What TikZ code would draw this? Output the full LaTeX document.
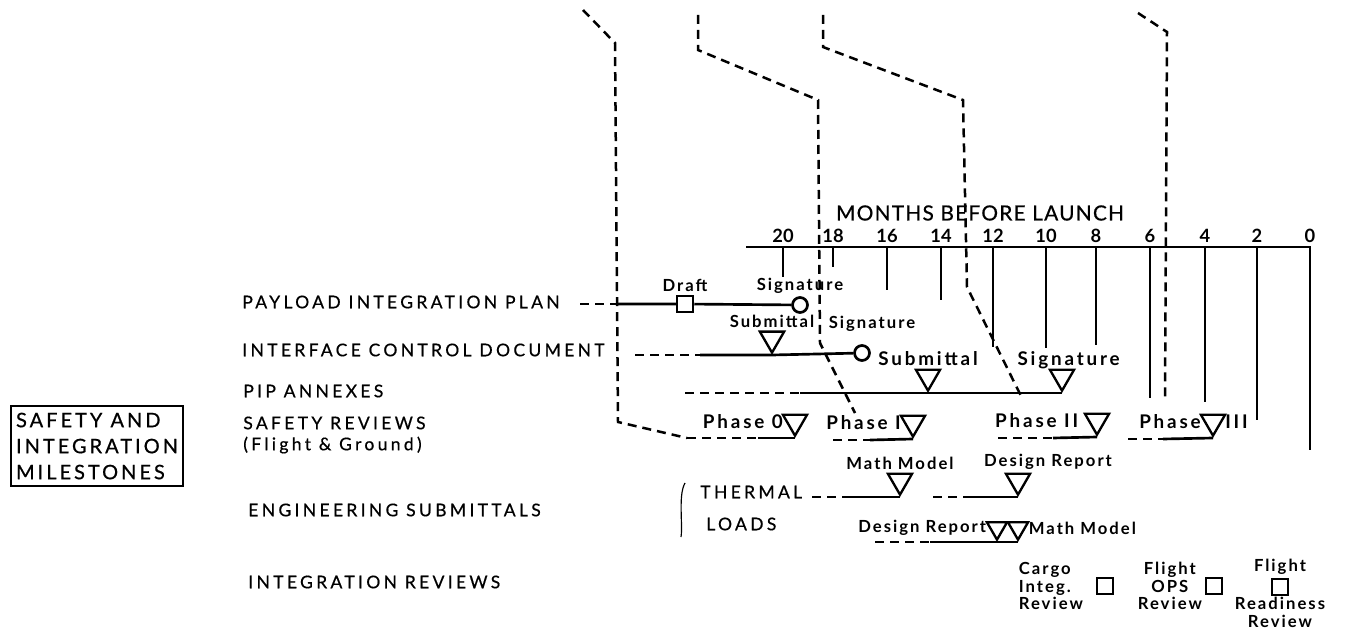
\documentclass[tikz,border=0pt]{standalone}
\usepackage{fontspec}
\setmainfont{Lato}
\usetikzlibrary{shapes.geometric}

\newcommand\rowfont{\fontsize{10.5}{12.6}\selectfont\addfontfeature{LetterSpace=19, FakeBold=0.6}}
\newcommand\boxfont{\fontsize{12}{15.6}\selectfont\addfontfeature{LetterSpace=15, FakeBold=0.6}}
\newcommand\tagfont{\fontsize{10}{10.5}\selectfont\bfseries\addfontfeature{LetterSpace=12}}
\newcommand\bigtagfont{\fontsize{11.3}{13}\selectfont\bfseries\addfontfeature{LetterSpace=15}}
\newcommand\monthfont{\fontsize{11}{12}\selectfont\bfseries}
\newcommand\titlefont{\fontsize{12.5}{14}\selectfont\addfontfeature{LetterSpace=6, FakeBold=0.6}}

\tikzset{
  rowlabel/.style={anchor=west, inner sep=0pt, font=\rowfont, align=left},
  tag/.style={font=\tagfont, inner sep=1.5pt},
  bigtag/.style={font=\bigtagfont, inner sep=1.5pt},
  solidline/.style={line width=1.6pt},
  flow/.style={line width=1.5pt, dash pattern=on 5.4pt off 3.6pt},
  mstone/.style={regular polygon, regular polygon sides=3, shape border rotate=180,
    draw, line width=1.4pt, inner sep=0pt, minimum size=16.8pt, anchor=corner 1},
  smallstone/.style={mstone, minimum size=13.9pt},
  sig/.style={circle, draw, line width=1.6pt, inner sep=0pt, minimum size=9pt},
  revbox/.style={rectangle, draw, line width=1.5pt, inner sep=0pt, minimum size=9.6pt}
}

\begin{document}
\begin{tikzpicture}[x=0.6pt, y=-0.6pt]
  \useasboundingbox (0,0) rectangle (1348,630);

  % time scale
  \node[font=\titlefont] (title) at (980,213) {MONTHS BEFORE LAUNCH};
  \draw[solidline] (746,247) -- (1310,247) -- (1310,450);
  \foreach \m/\x/\e in {20/783/277, 18/833/267, 16/887/290, 14/941/300, 12/993/347,
      10/1046/348, 8/1096/345, 6/1150/398, 4/1205/402, 2/1257/420} {
    \node[font=\monthfont, inner sep=0pt] (m\m) at (\x,236) {\m};
    \draw[solidline] (\x,247) -- (\x,\e);
  }
  \node[font=\monthfont, inner sep=0pt] (m0) at (1310,236) {0};

  % box
  \node[draw, line width=1.3pt, align=left, inner xsep=3pt, inner ysep=4pt, font=\boxfont, anchor=north west]
    (milestones) at (10,405) {SAFETY AND\\INTEGRATION\\MILESTONES};

  % row labels
  \node[rowlabel] (pip) at (242,302) {PAYLOAD INTEGRATION PLAN};
  \node[rowlabel] (icd) at (242,350) {INTERFACE CONTROL DOCUMENT};
  \node[rowlabel] (annex) at (243,391) {PIP ANNEXES};
  \node[rowlabel] (safety) at (243,435) {SAFETY REVIEWS\\(Flight \& Ground)};
  \node[rowlabel] (eng) at (248,510) {ENGINEERING SUBMITTALS};
  \node[rowlabel] (intrev) at (248,582) {INTEGRATION REVIEWS};
  \node[rowlabel] (thermal) at (700,492) {THERMAL};
  \node[rowlabel] (loads) at (706,524) {LOADS};
  \draw[line width=0.7pt] (685,483) .. controls (678,495) and (683,525) .. (681,537);

  % payload integration plan
  \coordinate (pipA) at (580,304);
  \coordinate (pipB) at (618,304);
  \node[revbox, label={[tag]above:Draft}] (draft) at (685,304) {};
  \node[sig, label={[tag]above:Signature}] (pipsig) at (800,305) {};
  \draw[flow] (pipA) -- (pipB);
  \draw[solidline] (pipB) -- (draft) -- (pipsig);

  % interface control document
  \coordinate (icdA) at (635,355);
  \coordinate (icdB) at (700,355);
  \node[mstone, label={[tag]above:Submittal}] (icdsub) at (772,355) {};
  \node[sig, label={[tag, xshift=6pt, yshift=6pt]above:Signature}] (icdsig) at (862,353) {};
  \draw[flow] (icdA) -- (icdB);
  \draw[solidline] (icdB) -- (icdsub.corner 1) -- (icdsig);

  % pip annexes
  \coordinate (annA) at (685,393);
  \coordinate (annB) at (800,393);
  \node[mstone, label={[bigtag]above:Submittal}] (annsub) at (928,393) {};
  \node[mstone, label={[bigtag, xshift=4pt, yshift=-2pt]above:Signature}] (annsig) at (1062,393) {};
  \draw[flow] (annA) -- (annB);
  \draw[solidline] (annB) -- (annsub.corner 1) -- (annsig.corner 1);

  % safety reviews
  \coordinate (ph0A) at (687,438);
  \coordinate (ph0B) at (758,438);
  \node[mstone, label={[bigtag]left:Phase 0}] (ph0) at (795,438) {};
  \draw[flow] (ph0A) -- (ph0B);
  \draw[solidline] (ph0B) -- (ph0.corner 1);

  \coordinate (ph1A) at (833,440);
  \coordinate (ph1B) at (870,440);
  \node[mstone, label={[bigtag]left:Phase I}] (ph1) at (913,439) {};
  \draw[flow] (ph1A) -- (ph1B);
  \draw[solidline] (ph1B) -- (ph1.corner 1);

  \coordinate (ph2A) at (998,438);
  \coordinate (ph2B) at (1053,438);
  \node[mstone, label={[bigtag, label distance=4pt]left:Phase II}] (ph2) at (1097,437) {};
  \draw[flow] (ph2A) -- (ph2B);
  \draw[solidline] (ph2B) -- (ph2.corner 1);

  \coordinate (ph3A) at (1128,439);
  \coordinate (ph3B) at (1163,439);
  \node[mstone, label={[bigtag]left:Phase}, label={[bigtag]right:III}] (ph3) at (1213,438) {};
  \draw[flow] (ph3A) -- (ph3B);
  \draw[solidline] (ph3B) -- (ph3.corner 1);

  % links from the rest of the chart
  \coordinate (in1) at (583,10);
  \coordinate (in2) at (698,15);
  \coordinate (in3) at (823,15);
  \coordinate (in4) at (1138,13);
  \coordinate (out2) at (855,413);
  \coordinate (out3) at (1022,398);
  \coordinate (out4) at (1165,400);
  \draw[flow] (in1) -- (615,43) -- (618,422) -- (ph0A);
  \draw[flow] (in2) -- (698,50) -- (818,100) -- (820,343) -- (out2);
  \draw[flow] (in3) -- (823,47) -- (963,100) -- (967,287) -- (out3);
  \draw[flow] (in4) -- (1167,32) -- (out4);

  % engineering submittals
  \coordinate (thA) at (812,497);
  \coordinate (thB) at (850,497);
  \node[mstone, label={[tag]above:Math Model}] (thmm) at (900,497) {};
  \coordinate (thC) at (933,497);
  \coordinate (thD) at (970,497);
  \node[mstone, label={[tag, xshift=18pt]above:Design Report}] (thdr) at (1018,497) {};
  \draw[flow] (thA) -- (thB);
  \draw[solidline] (thB) -- (thmm.corner 1);
  \draw[flow] (thC) -- (thD);
  \draw[solidline] (thD) -- (thdr.corner 1);

  \coordinate (ldA) at (875,542);
  \coordinate (ldB) at (930,542);
  \node[smallstone, label={[tag]left:Design Report}] (lddr) at (997,542) {};
  \node[smallstone, label={[tag]right:Math Model}] (ldmm) at (1018,542) {};
  \draw[flow] (ldA) -- (ldB);
  \draw[solidline] (ldB) -- (lddr.corner 1) -- (ldmm.corner 1);

  % integration reviews
  \node[revbox, label={[tag, align=left, label distance=6pt]left:{Cargo\\Integ.\\Review}}] (cargo) at (1105,586) {};
  \node[revbox, label={[tag, align=center]left:{Flight\\OPS\\Review}}] (ops) at (1214,586) {};
  \node[revbox, label={[tag]above:Flight}, label={[tag, align=center, inner sep=0.5pt]below:{Readiness\\Review}}] (frr) at (1280,587) {};
\end{tikzpicture}
\end{document}
